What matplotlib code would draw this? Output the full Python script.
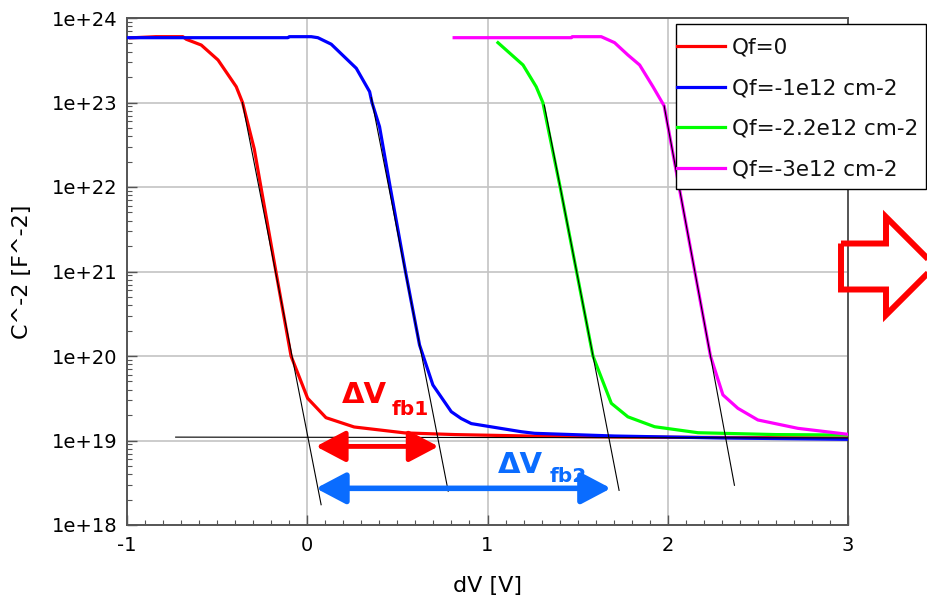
import matplotlib
matplotlib.use("Agg")
import matplotlib.pyplot as plt
from matplotlib.patches import Polygon, FancyArrowPatch, Rectangle
from matplotlib.ticker import FixedLocator, FixedFormatter, MultipleLocator, LogLocator, NullFormatter
import numpy as np

plt.rcParams['font.family'] = ['DejaVu Sans']

# ---------------- data (dV in V, log10 of C^-2 in F^-2) ----------------
red_v = [-0.98, -0.84, -0.69, -0.671, -0.588, -0.495, -0.394, -0.359, -0.294, -0.257, -0.174, -0.090, 0.002, 0.104, 0.26, 0.54, 0.82, 1.3, 1.8, 2.4, 3.0]
red_log = [23.765, 23.779, 23.779, 23.748, 23.68, 23.503, 23.187, 23.0, 22.45, 22.0, 21.0, 20.0, 19.50, 19.27, 19.16, 19.09, 19.07, 19.05, 19.04, 19.035, 19.03]

blue_v = [-1.0, -0.107, -0.10, 0.022, 0.059, 0.133, 0.272, 0.346, 0.359, 0.401, 0.460, 0.545, 0.623, 0.697, 0.799, 0.854, 0.910, 1.187, 1.261, 1.705, 2.3, 3.0]
blue_log = [23.767, 23.767, 23.779, 23.779, 23.767, 23.69, 23.405, 23.128, 23.0, 22.714, 22.0, 21.0, 20.13, 19.657, 19.341, 19.26, 19.20, 19.104, 19.085, 19.053, 19.03, 19.014]

green_v = [1.058, 1.197, 1.270, 1.307, 1.403, 1.494, 1.585, 1.687, 1.779, 1.927, 2.168, 2.6, 3.0]
green_log = [23.708, 23.444, 23.187, 23.0, 22.0, 21.0, 20.0, 19.44, 19.28, 19.163, 19.092, 19.07, 19.065]

mag_v = [0.815, 1.465, 1.47, 1.631, 1.705, 1.779, 1.844, 1.918, 1.980, 2.063, 2.150, 2.237, 2.306, 2.389, 2.50, 2.722, 3.0]
mag_log = [23.767, 23.767, 23.779, 23.779, 23.708, 23.562, 23.444, 23.187, 22.96, 22.0, 21.0, 20.0, 19.54, 19.381, 19.243, 19.144, 19.073]

# tangent / baseline construction lines (V, log10 C^-2)
red_tan_v, red_tan_log = [-0.36, 0.077], [23.0, 18.24]
blue_tan_v, blue_tan_log = [0.355, 0.782], [23.06, 18.40]
green_tan_v, green_tan_log = [1.315, 1.73], [22.97, 18.41]
mag_tan_v, mag_tan_log = [1.98, 2.37], [22.96, 18.47]
base_v, base_log = [-0.73, 3.0], [19.04, 19.03]

# flat-band shift arrows (V start, V end, log10 level)
dvfb1 = (0.033, 0.743, 18.93)
dvfb2 = (0.033, 1.70, 18.434)

labels = ["Qf=0", "Qf=-1e12 cm-2", "Qf=-2.2e12 cm-2", "Qf=-3e12 cm-2"]
colors = ["#ff0000", "#0000ff", "#00ff00", "#ff00ff"]

xticks = [-1, 0, 1, 2, 3]
xtick_labels = ["-1", "0", "1", "2", "3"]
yticks = [1e18, 1e19, 1e20, 1e21, 1e22, 1e23, 1e24]
ytick_labels = ["1e+18", "1e+19", "1e+20", "1e+21", "1e+22", "1e+23", "1e+24"]

# ---------------- figure ----------------
W, H = 927, 603
fig = plt.figure(figsize=(W / 100, H / 100), dpi=100)
ax = fig.add_axes([127 / W, 1 - 525 / H, (848 - 127) / W, (525 - 18) / H])
ax.set_yscale('log')
ax.set_xlim(-1, 3)
ax.set_ylim(1e18, 1e24)

def p(vals):
    return 10 ** np.asarray(vals, dtype=float)

series = [(red_v, red_log), (blue_v, blue_log), (green_v, green_log), (mag_v, mag_log)]
handles = []
for (v, lg), c, lab in zip(series, colors, labels):
    h, = ax.plot(v, p(lg), color=c, lw=2.3, label=lab, zorder=3, solid_joinstyle='round')
    handles.append(h)

for v, lg in [(red_tan_v, red_tan_log), (blue_tan_v, blue_tan_log),
              (green_tan_v, green_tan_log), (mag_tan_v, mag_tan_log), (base_v, base_log)]:
    ax.plot(v, p(lg), color='black', lw=0.8, zorder=4)

# grid & ticks
ax.grid(True, which='major', color='#c4c4c4', lw=1.2, zorder=0)
ax.set_axisbelow(True)
ax.xaxis.set_major_locator(FixedLocator(xticks))
ax.xaxis.set_major_formatter(FixedFormatter(xtick_labels))
ax.xaxis.set_minor_locator(MultipleLocator(0.1))
ax.yaxis.set_major_locator(FixedLocator(yticks))
ax.yaxis.set_major_formatter(FixedFormatter(ytick_labels))
ax.yaxis.set_minor_locator(LogLocator(base=10, subs=np.arange(2, 10)))
ax.yaxis.set_minor_formatter(NullFormatter())
ax.tick_params(which='both', direction='in', colors='#555555', labelcolor='black', labelsize=14)
ax.tick_params(which='major', length=7, width=1)
ax.tick_params(which='minor', length=3.5, width=0.8)
ax.tick_params(axis='x', pad=8)
ax.tick_params(axis='y', pad=7)
for s in ax.spines.values():
    s.set_color('#555555')
    s.set_linewidth(1.4)

ax.set_xlabel("dV [V]", fontsize=16, labelpad=15)
ax.set_ylabel("C^-2 [F^-2]", fontsize=16, labelpad=14)

# legend (frame drawn separately)
frame = Rectangle((675.5 / W, 1 - 189 / H), (926 - 675.5) / W, (189 - 24) / H,
                  transform=fig.transFigure, facecolor='white', edgecolor='black', lw=1.0, zorder=9)
fig.add_artist(frame)
leg = fig.legend(handles=handles, labels=labels, loc='upper left',
                 bbox_to_anchor=(677 / W, 1 - 38 / H),
                 fontsize=15.5, frameon=False, borderpad=0, handlelength=2.23,
                 handletextpad=0.33, labelspacing=0.95, borderaxespad=0)
leg.set_zorder(10)
for t in leg.get_texts():
    t.set_color('#111111')

# flat-band shift arrows
red_arrow = FancyArrowPatch((dvfb1[0], 10 ** dvfb1[2]), (dvfb1[1], 10 ** dvfb1[2]),
                            arrowstyle="<|-|>,head_length=1.8,head_width=0.95",
                            mutation_scale=10, color='#ff0000', lw=3.5, zorder=6)
ax.add_patch(red_arrow)
blue_arrow = FancyArrowPatch((dvfb2[0], 10 ** dvfb2[2]), (dvfb2[1], 10 ** dvfb2[2]),
                             arrowstyle="<|-|>,head_length=1.8,head_width=0.95",
                             mutation_scale=10, color='#0a6cff', lw=4.0, zorder=6)
ax.add_patch(blue_arrow)

ax.text(0.194, 10 ** 19.444, "ΔV", color='#ff0000', fontsize=21, fontweight='bold', va='baseline', ha='left', zorder=7)
ax.text(0.466, 10 ** 19.302, "fb1", color='#ff0000', fontsize=14.5, fontweight='bold', va='baseline', ha='left', zorder=7)
ax.text(1.06, 10 ** 18.615, "ΔV", color='#0a6cff', fontsize=21, fontweight='bold', va='baseline', ha='left', zorder=7)
ax.text(1.343, 10 ** 18.51, "fb2", color='#0a6cff', fontsize=14.5, fontweight='bold', va='baseline', ha='left', zorder=7)

# hollow red block arrow at right
pts_px = [(841, 243.5), (886, 243.5), (886, 217), (935, 266), (886, 315), (886, 289.5), (841, 289.5)]
pts = [(x / W, 1 - y / H) for x, y in pts_px]
poly = Polygon(pts, closed=True, fill=False, edgecolor='#ff0000', lw=4.3,
               transform=fig.transFigure, joinstyle='miter', clip_on=False, zorder=20)
fig.add_artist(poly)

fig.savefig("out.png", dpi=100)
